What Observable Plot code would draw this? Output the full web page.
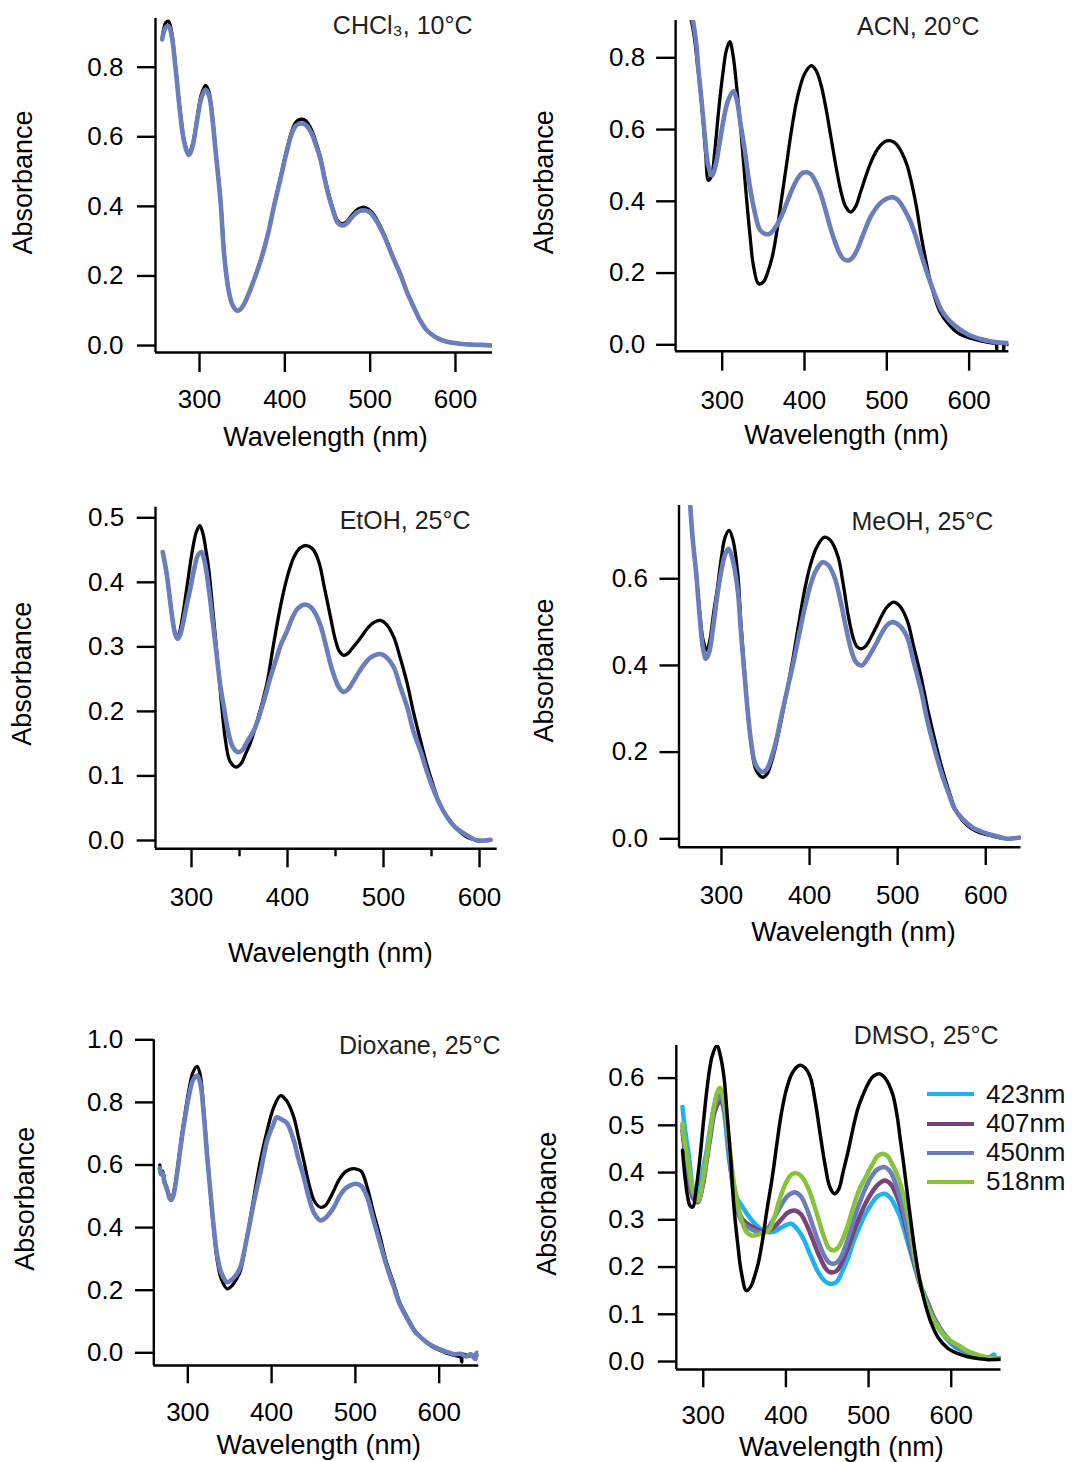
<!DOCTYPE html>
<html>
<head>
<meta charset="utf-8">
<script src="https://cdn.jsdelivr.net/npm/d3@7"></script>
<script src="https://cdn.jsdelivr.net/npm/@observablehq/plot@0.6"></script>
<style>
  html, body { margin: 0; padding: 0; background: #fff; }
  #root { position: relative; width: 1072px; height: 1462px; overflow: hidden; font-family: 'Liberation Sans', Arial, sans-serif; }
  .panel { position: absolute; }
  .legend { position: absolute; font-size: 26px; line-height: 29.3px; color: #111; }
  .legend .row { display: flex; align-items: center; height: 29.3px; }
  .legend .sw { display: inline-block; width: 47px; height: 4px; margin-right: 12px; }
</style>
</head>
<body>
<div id="root"></div>
<script>
// ---------- DATA (wavelength nm, absorbance) ----------
const xTicks = [300, 400, 500, 600];

// CHCl3, 10 °C
const chcl3Black = [[256.2,0.88],[258,0.91],[260.5,0.928],[263.6,0.932],[267,0.905],[272,0.80],[277,0.68],[282,0.59],[287.5,0.553],[292,0.58],[297,0.65],[302,0.72],[307,0.748],[311,0.73],[315,0.66],[319,0.56],[324.6,0.42],[329,0.26],[334,0.16],[339,0.115],[344.8,0.10],[350,0.11],[357,0.145],[364,0.19],[371.4,0.244],[380,0.32],[387,0.40],[394.9,0.484],[402,0.56],[408,0.615],[413,0.642],[418,0.65],[424,0.647],[431,0.622],[437,0.58],[441.8,0.541],[447,0.48],[452,0.43],[457.5,0.385],[462,0.358],[467.2,0.35],[472,0.355],[477,0.37],[482,0.385],[487,0.394],[492.5,0.398],[498,0.392],[504,0.377],[510,0.352],[515.9,0.322],[522,0.285],[528,0.248],[535.5,0.206],[543,0.155],[551.2,0.11],[558,0.075],[565,0.048],[571,0.034],[580,0.02],[590,0.011],[602,0.006],[615,0.003],[630,0.002],[643,0.0]];
const chcl3Blue = [[256.2,0.88],[258,0.90],[260.5,0.915],[263.6,0.918],[267,0.895],[272,0.795],[277,0.675],[282,0.585],[287.5,0.548],[292,0.575],[297,0.645],[302,0.71],[307,0.735],[311,0.72],[315,0.655],[319,0.555],[324.6,0.415],[329,0.258],[334,0.16],[339,0.115],[344.8,0.10],[350,0.11],[357,0.145],[364,0.19],[371.4,0.242],[380,0.318],[387,0.397],[394.9,0.48],[402,0.555],[408,0.608],[413,0.632],[418,0.638],[424,0.635],[431,0.612],[437,0.572],[441.8,0.535],[447,0.475],[452,0.425],[457.5,0.38],[462,0.353],[467.2,0.345],[472,0.35],[477,0.364],[482,0.377],[487,0.386],[492.5,0.389],[498,0.385],[504,0.371],[510,0.347],[515.9,0.318],[522,0.282],[528,0.246],[535.5,0.204],[543,0.154],[551.2,0.11],[558,0.075],[565,0.048],[571,0.034],[580,0.02],[590,0.011],[602,0.006],[615,0.003],[630,0.002],[643,0.0]];

// ACN, 20 °C
const acnBlack = [[262,0.91],[266,0.86],[270,0.78],[273,0.72],[277,0.62],[280,0.53],[283.3,0.458],[287,0.47],[291,0.54],[296,0.66],[301,0.76],[305,0.82],[309.2,0.845],[313,0.81],[318,0.71],[323,0.59],[328,0.45],[333.6,0.309],[338,0.22],[344.1,0.170],[350,0.175],[355,0.20],[360.8,0.245],[366,0.31],[372,0.405],[377.7,0.495],[384,0.595],[390,0.675],[394.5,0.718],[400,0.755],[408,0.778],[414,0.765],[420,0.725],[426,0.66],[432,0.58],[438,0.50],[444,0.43],[450,0.385],[456.2,0.370],[462,0.385],[468,0.425],[474,0.467],[480,0.505],[486,0.535],[492,0.555],[498,0.567],[503.6,0.569],[509,0.564],[514,0.552],[519,0.532],[524.7,0.50],[530,0.452],[536,0.385],[541.3,0.309],[547,0.24],[552,0.185],[558,0.133],[565,0.09],[574.9,0.058],[585,0.035],[595,0.023],[604,0.017],[615,0.01],[629,0.005],[632.5,0.004],[633.5,-0.015],[634.5,0.004],[641,0.003],[642,-0.015],[643,0.003],[648,0.0]];
const acnBlue = [[264,0.91],[268,0.85],[271,0.77],[274.9,0.681],[279,0.58],[283,0.50],[287.5,0.472],[292,0.50],[297,0.565],[302.2,0.634],[307,0.68],[313.5,0.707],[318,0.68],[322,0.62],[327.4,0.542],[333,0.45],[340,0.365],[346,0.32],[352.5,0.309],[358,0.31],[364,0.325],[369.3,0.346],[375,0.375],[380,0.405],[386.1,0.439],[392,0.465],[397,0.478],[402.9,0.481],[408,0.475],[414,0.452],[419.6,0.421],[425,0.38],[431,0.33],[436.4,0.291],[442,0.258],[447,0.24],[453.2,0.235],[459,0.245],[464,0.265],[470,0.30],[476,0.335],[481,0.36],[486.7,0.38],[492,0.395],[498,0.405],[503,0.41],[507.7,0.411],[513,0.405],[518,0.39],[523,0.37],[528.8,0.343],[534,0.31],[540,0.265],[545,0.228],[549.7,0.195],[555,0.16],[560,0.13],[566.5,0.096],[575,0.07],[587.5,0.045],[600,0.027],[612.6,0.017],[625,0.01],[637,0.006],[650,0.005]];

// EtOH, 25 °C
const etohBlack = [[270,0.447],[274,0.415],[277,0.38],[280,0.345],[283,0.322],[285.5,0.316],[288,0.325],[291,0.35],[294,0.38],[297.2,0.413],[301,0.45],[305,0.478],[308.6,0.488],[312,0.475],[315,0.45],[318,0.42],[322,0.36],[326.8,0.284],[331,0.215],[335.4,0.155],[340,0.123],[346.6,0.1136],[352,0.12],[356,0.133],[361.5,0.152],[367,0.178],[373,0.21],[378.8,0.245],[385,0.30],[391,0.35],[396.2,0.387],[401,0.415],[406.6,0.439],[413,0.453],[419.8,0.457],[426,0.452],[432.6,0.432],[438,0.395],[444.8,0.346],[450,0.31],[454,0.293],[458.6,0.287],[463,0.29],[467,0.297],[472.6,0.307],[478,0.318],[484,0.33],[490,0.338],[496.9,0.341],[503,0.335],[510.7,0.315],[517,0.285],[524.7,0.243],[531,0.2],[538.5,0.155],[545,0.118],[552.4,0.0826],[559,0.055],[566.3,0.036],[575,0.02],[587.2,0.005],[600,0.0],[611.5,0.0]];
const etohBlue = [[270,0.447],[274,0.415],[277,0.38],[280,0.345],[283,0.32],[285.5,0.3125],[288,0.318],[291,0.335],[295,0.365],[299,0.392],[303,0.422],[307,0.443],[310.4,0.447],[314,0.43],[318,0.39],[321.6,0.346],[326,0.29],[330,0.24],[333.7,0.2066],[338,0.17],[343,0.145],[348.2,0.1368],[353,0.14],[358,0.153],[364.9,0.1704],[370,0.19],[376,0.22],[382.3,0.253],[388,0.28],[393,0.303],[399.7,0.325],[405,0.345],[411,0.36],[418.7,0.3657],[424,0.362],[429,0.352],[434.4,0.333],[440,0.302],[445,0.272],[450,0.249],[454,0.236],[458.6,0.23],[463,0.234],[468,0.245],[474,0.26],[480,0.273],[487,0.284],[496.9,0.289],[503,0.284],[510.7,0.2685],[517,0.24],[524.7,0.2066],[531,0.17],[538.5,0.139],[545,0.108],[552.4,0.0775],[559,0.055],[566.3,0.036],[575,0.02],[587.2,0.0077],[597.6,0.0],[605,0.0],[611.5,0.001]];

// MeOH, 25 °C
const meohBlack = [[263.6,0.80],[267,0.70],[271.4,0.61],[275,0.53],[279,0.46],[283.2,0.435],[287,0.46],[291,0.52],[295,0.573],[300,0.65],[304,0.695],[308.7,0.7115],[313,0.69],[318.5,0.6116],[322,0.50],[326.4,0.381],[330,0.29],[334.2,0.21],[339,0.16],[346.7,0.142],[352,0.15],[356,0.172],[361.7,0.215],[368,0.275],[375,0.348],[381.4,0.419],[388,0.50],[395,0.58],[401,0.632],[408,0.672],[416.7,0.696],[424,0.688],[432.4,0.65],[438,0.59],[444.2,0.512],[450,0.46],[454,0.443],[459.1,0.4385],[464,0.445],[470,0.466],[475.6,0.488],[482,0.515],[488,0.535],[495.2,0.546],[502,0.538],[510.8,0.504],[518,0.445],[526.6,0.373],[534,0.30],[542.3,0.227],[550,0.165],[558,0.1115],[565,0.07],[573.6,0.042],[585,0.022],[597.2,0.0115],[610,0.005],[624.6,0.0],[635,0.002],[644.3,0.004]];
const meohBlue = [[263.6,0.80],[267,0.70],[271.4,0.61],[275,0.52],[279,0.44],[282.4,0.415],[286,0.43],[290,0.48],[295,0.5577],[300,0.62],[304,0.655],[307.9,0.669],[312,0.65],[318.5,0.573],[322,0.48],[326.4,0.373],[330,0.29],[334.2,0.215],[339,0.17],[346.7,0.154],[352,0.162],[356,0.183],[361.7,0.223],[368,0.283],[375,0.347],[381.4,0.404],[388,0.47],[395,0.537],[401,0.585],[407,0.618],[414.7,0.638],[421,0.632],[428.4,0.603],[435,0.55],[442.1,0.48],[448,0.43],[453,0.407],[459.1,0.40],[464,0.41],[470,0.43],[475.6,0.45],[482,0.475],[488,0.493],[494.4,0.4999],[502,0.492],[510.8,0.465],[518,0.41],[526.6,0.342],[534,0.27],[542.3,0.204],[550,0.15],[558,0.104],[565,0.068],[573.6,0.046],[585,0.026],[597.2,0.015],[610,0.007],[624.6,0.0],[635,0.002],[644.3,0.004]];

// Dioxane, 25 °C
const dioxBlack = [[266.6,0.60],[268,0.575],[270,0.58],[272,0.55],[273.4,0.54],[276,0.52],[278,0.50],[280.2,0.49],[283,0.51],[287.3,0.5824],[292,0.68],[297.2,0.774],[302,0.85],[306,0.895],[311.2,0.915],[315,0.885],[319.1,0.774],[323,0.64],[327.1,0.508],[331,0.39],[335.1,0.295],[340,0.235],[347,0.2045],[353,0.215],[358,0.235],[362.9,0.263],[370,0.36],[378.8,0.497],[387,0.62],[394.7,0.71],[402,0.78],[410.6,0.822],[418,0.805],[426.5,0.7527],[432,0.69],[438.4,0.6144],[445,0.535],[451,0.485],[458.4,0.465],[464,0.47],[469,0.49],[474.3,0.5185],[481,0.555],[488,0.578],[494,0.587],[500.2,0.588],[507,0.58],[514.1,0.529],[521,0.455],[529.7,0.369],[537,0.29],[545.9,0.22],[553,0.16],[561.8,0.1138],[570,0.075],[577.7,0.05],[590,0.022],[601.6,0.007],[610,-0.002],[618,-0.008],[625.5,-0.014],[627,-0.03],[628,-0.005],[635,-0.01],[642,-0.008],[649.4,-0.009]];
const dioxBlue = [[266.6,0.59],[268,0.57],[270,0.575],[272,0.545],[273.4,0.535],[276,0.515],[278,0.495],[280.2,0.488],[283,0.505],[287.3,0.575],[292,0.67],[297.2,0.76],[302,0.83],[306,0.87],[311.2,0.886],[315,0.86],[319.1,0.76],[323,0.63],[327.1,0.51],[331,0.40],[335.1,0.31],[340,0.255],[347,0.2256],[353,0.235],[358,0.25],[362.9,0.275],[370,0.36],[378.8,0.48],[387,0.58],[394.7,0.678],[402,0.73],[406,0.752],[410.6,0.7476],[418,0.735],[426.5,0.678],[432,0.62],[438.4,0.561],[445,0.49],[451,0.445],[458.4,0.4227],[464,0.43],[469,0.445],[474.3,0.465],[481,0.50],[488,0.525],[494,0.535],[500.2,0.54],[507,0.533],[514.1,0.497],[521,0.43],[529.7,0.348],[537,0.28],[545.9,0.21],[553,0.155],[561.8,0.11],[570,0.072],[577.7,0.05],[590,0.025],[601.6,0.01],[610,0.002],[618,-0.005],[625.5,-0.003],[632,-0.012],[638,-0.005],[643,-0.02],[645,0.0],[649.4,-0.005]];

// DMSO, 25 °C
const dmsoBlack = [[274.9,0.447],[278,0.39],[281.2,0.348],[284,0.33],[287.5,0.327],[291,0.36],[295.7,0.4257],[301,0.52],[306.3,0.602],[311,0.648],[316.7,0.669],[321,0.645],[325.1,0.602],[329,0.52],[333.4,0.4257],[337,0.33],[341.7,0.249],[346,0.19],[352.2,0.150],[358,0.16],[362,0.18],[366.8,0.21],[372,0.26],[377,0.32],[383.5,0.39],[389,0.46],[394,0.52],[400.3,0.574],[408,0.612],[417,0.627],[423,0.622],[429.5,0.602],[436,0.545],[442,0.475],[448,0.41],[453,0.37],[458.7,0.355],[464,0.365],[469,0.40],[475.5,0.447],[482,0.50],[487,0.535],[492.2,0.56],[500,0.59],[506,0.604],[513.1,0.609],[520,0.60],[525,0.585],[529.8,0.562],[535,0.515],[538,0.475],[542.3,0.42],[548,0.34],[554.8,0.249],[561,0.18],[567.4,0.129],[575,0.085],[584.1,0.051],[596,0.028],[609.2,0.016],[620,0.01],[634.2,0.0057],[645,0.004],[659.3,0.005]];
const dmso423 = [[274.9,0.5386],[278,0.49],[283.3,0.4257],[287,0.37],[291.7,0.3446],[296,0.37],[300,0.41],[304.2,0.447],[309,0.50],[314,0.545],[320.1,0.5633],[325,0.53],[331.4,0.4257],[337,0.37],[341,0.345],[345.9,0.332],[354,0.31],[362.7,0.2916],[370,0.28],[379.4,0.2738],[386,0.275],[391.9,0.281],[399,0.288],[406.6,0.2916],[414,0.28],[421.2,0.26],[429,0.228],[438,0.1927],[446,0.172],[451,0.166],[456.7,0.1645],[462,0.17],[468,0.19],[475.5,0.2209],[482,0.255],[489,0.285],[496.4,0.3128],[504,0.335],[511,0.35],[519.4,0.355],[527,0.345],[532,0.33],[538.2,0.3056],[546,0.26],[554.8,0.2069],[563,0.16],[571.5,0.1222],[580,0.085],[592.4,0.0515],[605,0.03],[617.5,0.0197],[630,0.012],[645,0.008],[652,0.015],[653,0.006],[659.3,0.0057]];
const dmso407 = [[274.9,0.489],[278,0.44],[283,0.38],[288,0.345],[293.7,0.3374],[299,0.37],[304.2,0.4257],[309,0.48],[314,0.53],[320.9,0.5527],[326,0.53],[331.4,0.44],[337,0.36],[342,0.32],[348,0.30],[355,0.29],[362,0.283],[370,0.276],[378,0.276],[386,0.285],[395,0.302],[403,0.316],[410.8,0.3198],[418,0.312],[425,0.29],[432,0.26],[440,0.225],[447,0.20],[452,0.19],[457.9,0.1891],[463,0.195],[469,0.215],[476,0.245],[483,0.28],[490,0.31],[497,0.337],[504,0.358],[511,0.374],[519.4,0.3833],[527,0.375],[533,0.355],[540,0.32],[547,0.27],[555,0.21],[563,0.16],[571.5,0.125],[580,0.09],[592.4,0.056],[605,0.034],[617.5,0.022],[630,0.013],[645,0.008],[659.3,0.006]];
const dmso450 = [[274.9,0.50],[278,0.45],[283,0.39],[288,0.35],[293,0.34],[299,0.37],[304.2,0.43],[309,0.49],[314,0.54],[320.5,0.562],[326,0.535],[331.4,0.44],[337,0.355],[342,0.315],[348,0.293],[355,0.283],[362,0.277],[370,0.273],[378,0.282],[386,0.305],[395,0.333],[403,0.352],[410.8,0.3585],[418,0.35],[425,0.325],[432,0.29],[440,0.25],[447,0.222],[452,0.21],[457.9,0.2069],[463,0.212],[469,0.23],[476,0.265],[483,0.305],[490,0.34],[497,0.37],[504,0.393],[511,0.407],[519.4,0.4115],[527,0.40],[533,0.375],[540,0.335],[547,0.28],[555,0.215],[563,0.162],[571.5,0.125],[580,0.09],[592.4,0.056],[605,0.034],[617.5,0.022],[630,0.013],[645,0.008],[659.3,0.006]];
const dmso518 = [[274.9,0.5034],[278,0.46],[283.3,0.4045],[288,0.36],[293.7,0.341],[299,0.38],[306.3,0.461],[312,0.53],[316,0.565],[320.1,0.5796],[325,0.55],[331.4,0.461],[336,0.39],[341.7,0.334],[347,0.295],[352,0.275],[358.4,0.2668],[365,0.268],[372,0.272],[379.4,0.2774],[386,0.305],[391,0.335],[396.1,0.362],[402,0.385],[407,0.396],[412.8,0.3988],[419,0.392],[424,0.378],[429.5,0.356],[437,0.315],[446.2,0.2632],[452,0.24],[457.9,0.235],[464,0.243],[469,0.26],[475.5,0.2916],[482,0.33],[489,0.365],[496.4,0.39],[504,0.415],[511,0.435],[517.3,0.44],[523,0.435],[528,0.42],[534,0.398],[541,0.36],[550.8,0.2774],[558,0.20],[567.4,0.136],[575,0.10],[584.1,0.0726],[596,0.048],[609.2,0.0339],[620,0.022],[634.2,0.0127],[645,0.008],[659.3,0.0057]];

const dmsoLegend = ["423nm", "407nm", "450nm", "518nm"];
const dmsoColors = ["#1cb3ef", "#7b4179", "#6a7dbd", "#86c33a"];
const blueColor = "#6a7dbd";

// ---------- PANELS ----------
const FONT = "'Liberation Sans', Arial, sans-serif";
const panels = [
  { title: "CHCl\u2083, 10\u00B0C", left: 0, top: 0, width: 536, height: 470,
    mL: 155, mT: 18, mR: 44, mB: 118, xd: [248.4, 643.4], yd: [-0.020, 0.940],
    yTicks: [0, 0.2, 0.4, 0.6, 0.8], ySize: 18, yPad: 14, xSize: 20, xPad: 17,
    ylab: [-132, -3], xlab: [1.5, 85], tit: [-20, 7],
    series: [[chcl3Black, "#000", 3.3], [chcl3Blue, blueColor, 4.6]] },
  { title: "ACN, 20\u00B0C", left: 536, top: 0, width: 536, height: 470,
    mL: 139.1, mT: 20, mR: 63.6, mB: 119.3, xd: [243.4, 648.3], yd: [-0.0178, 0.904],
    yTicks: [0, 0.2, 0.4, 0.6, 0.8], ySize: 19, yPad: 11.4, xSize: 20, xPad: 19,
    ylab: [-131.3, -3.6], xlab: [4.2, 84.3], tit: [-29.4, 6.7],
    series: [[acnBlack, "#000", 3.3], [acnBlue, blueColor, 4.6]] },
  { title: "EtOH, 25\u00B0C", left: 0, top: 480, width: 536, height: 500,
    mL: 155, mT: 26.7, mR: 39.3, mB: 131.7, xd: [262.5, 618.4], yd: [-0.0129, 0.5164],
    yTicks: [0, 0.1, 0.2, 0.3, 0.4, 0.5], ySize: 18.3, yPad: 13, xSize: 19, xPad: 19.4,
    minor: [350, 450, 550],
    ylab: [-133.3, -4.2], xlab: [4, 105], tit: [-26.7, 13.3],
    series: [[etohBlack, "#000", 3.3], [etohBlue, blueColor, 4.6]] },
  { title: "MeOH, 25\u00B0C", left: 536, top: 480, width: 536, height: 480,
    mL: 142.5, mT: 25, mR: 51.5, mB: 113.3, xd: [251.8, 640], yd: [-0.0194, 0.769],
    yTicks: [0, 0.2, 0.4, 0.6], ySize: 19, yPad: 12.1, xSize: 18.3, xPad: 20,
    ylab: [-134.7, -5.9], xlab: [3.5, 85], tit: [-27.6, 16.7],
    series: [[meohBlack, "#000", 3.3], [meohBlue, blueColor, 4.6]] },
  { title: "Dioxane, 25\u00B0C", left: 0, top: 1000, width: 536, height: 462,
    mL: 153.3, mT: 39.3, mR: 57.7, mB: 97, xd: [259.4, 647.3], yd: [-0.0406, 1.0],
    yTicks: [0, 0.2, 0.4, 0.6, 0.8, 1.0], ySize: 18.3, yPad: 12.3, xSize: 18.3, xPad: 18.4,
    ylab: [-128.3, -3.9], xlab: [2.5, 80], tit: [21.7, 5.7],
    series: [[dioxBlack, "#000", 3.3], [dioxBlue, blueColor, 4.6]] },
  { title: "DMSO, 25\u00B0C", left: 536, top: 1000, width: 536, height: 462,
    mL: 139.8, mT: 45, mR: 71.5, mB: 93, xd: [267.4, 660.2], yd: [-0.0169, 0.669],
    yTicks: [0, 0.1, 0.2, 0.3, 0.4, 0.5, 0.6], ySize: 18, yPad: 13.8, xSize: 18.3, xPad: 17.7,
    ylab: [-128.5, -3.7], xlab: [2.75, 77.5], tit: [-2.5, -10],
    series: [[dmso423, dmsoColors[0], 4.5], [dmso407, dmsoColors[1], 4.5], [dmso450, dmsoColors[2], 4.5], [dmso518, dmsoColors[3], 4.5], [dmsoBlack, "#000", 3.5]] }
];

const root = document.getElementById("root");
for (const p of panels) {
  const marks = [];
  for (const [data, color, w] of p.series) {
    marks.push(Plot.line(data, { x: d => d[0], y: d => d[1], stroke: color, strokeWidth: w, curve: "catmull-rom", clip: true, strokeLinejoin: "round", strokeLinecap: "round" }));
  }
  marks.push(Plot.ruleX([p.xd[0]], { stroke: "#000", strokeWidth: 2.4 }));
  marks.push(Plot.ruleY([p.yd[0]], { stroke: "#000", strokeWidth: 2.4 }));
  marks.push(Plot.axisY({ ticks: p.yTicks, tickSize: p.ySize, tickPadding: p.yPad, tickFormat: d3.format(".1f"), strokeWidth: 2.4, fontSize: 26, fill: "#000", label: null }));
  marks.push(Plot.axisX({ ticks: xTicks, tickSize: p.xSize, tickPadding: p.xPad, tickFormat: d3.format("d"), strokeWidth: 2.4, fontSize: 26, fill: "#000", label: null }));
  if (p.minor) marks.push(Plot.axisX({ ticks: p.minor, tickSize: 8, tickFormat: () => "", strokeWidth: 2.4, label: null }));
  marks.push(Plot.text(["Absorbance"], { text: d => d, frameAnchor: "left", rotate: -90, dx: p.ylab[0], dy: p.ylab[1], fontSize: 27, textAnchor: "middle", lineAnchor: "middle", fill: "#000" }));
  marks.push(Plot.text(["Wavelength (nm)"], { text: d => d, frameAnchor: "bottom", dx: p.xlab[0], dy: p.xlab[1], fontSize: 27, textAnchor: "middle", lineAnchor: "middle", fill: "#000" }));
  marks.push(Plot.text([p.title], { text: d => d, frameAnchor: "top-right", dx: p.tit[0], dy: p.tit[1], fontSize: 25, textAnchor: "end", lineAnchor: "middle", fill: "#231f20" }));

  const chart = Plot.plot({
    width: p.width, height: p.height,
    marginLeft: p.mL, marginTop: p.mT, marginRight: p.mR, marginBottom: p.mB,
    x: { domain: p.xd, label: null },
    y: { domain: p.yd, label: null },
    style: { fontFamily: FONT, fontSize: "26px", background: "transparent", color: "#000", overflow: "visible" },
    marks
  });
  chart.classList.add("panel");
  chart.style.left = p.left + "px";
  chart.style.top = p.top + "px";
  root.appendChild(chart);
}

// DMSO legend
const leg = document.createElement("div");
leg.className = "legend";
leg.style.left = "927px";
leg.style.top = "1079.6px";
dmsoLegend.forEach((name, i) => {
  const row = document.createElement("div");
  row.className = "row";
  const sw = document.createElement("span");
  sw.className = "sw";
  sw.style.background = dmsoColors[i];
  const t = document.createElement("span");
  t.textContent = name;
  row.appendChild(sw); row.appendChild(t);
  leg.appendChild(row);
});
root.appendChild(leg);
</script>
</body>
</html>
